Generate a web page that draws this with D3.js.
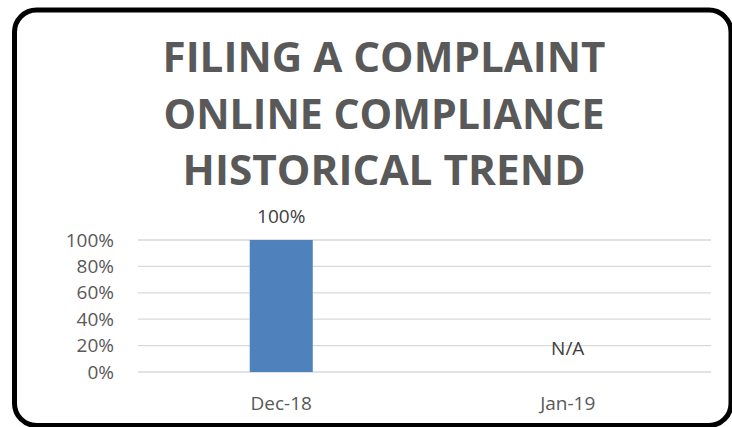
<!DOCTYPE html>
<html>
<head>
<meta charset="utf-8">
<script src="https://cdn.jsdelivr.net/npm/d3@7"></script>
<style>
  body { margin: 0; background: #fff; }
  svg { display: block; font-family: 'Open Sans', 'Liberation Sans', sans-serif; }
</style>
</head>
<body>
<div id="chart"></div>
<script>
// chart data
const categories = ['Dec-18', 'Jan-19'];
const values = [1.0, null];
const value_labels = ['100%', 'N/A'];
const y_ticks = [0, 0.2, 0.4, 0.6, 0.8, 1.0];
const title_lines = ['FILING A COMPLAINT', 'ONLINE COMPLIANCE', 'HISTORICAL TREND'];

const width = 732, height = 427;
const margin = {top: 240, right: 21, bottom: 55, left: 138};
const text_color = '#595959';
const bar_color = '#4f81bd';
const grid_color = '#d9d9d9';
const label_size = 19;

const svg = d3.select('#chart').append('svg')
  .attr('width', width)
  .attr('height', height);

// rounded frame
svg.append('rect')
  .attr('x', 14.5).attr('y', 10)
  .attr('width', 716.5).attr('height', 415.5)
  .attr('rx', 22)
  .attr('fill', 'white')
  .attr('stroke', 'black')
  .attr('stroke-width', 5);

// title
const title_baselines = [72, 129, 185];
const title_widths = [443, 441, 403];
svg.append('g').selectAll('text')
  .data(title_lines)
  .join('text')
  .attr('x', 384)
  .attr('y', (d, i) => title_baselines[i])
  .attr('text-anchor', 'middle')
  .attr('font-size', 41)
  .attr('font-weight', 'bold')
  .attr('fill', text_color)
  .attr('textLength', (d, i) => title_widths[i])
  .attr('lengthAdjust', 'spacingAndGlyphs')
  .text(d => d);

const y = d3.scaleLinear().domain([0, 1]).range([height - margin.bottom, margin.top]);
const x = d3.scaleBand().domain(categories).range([margin.left, width - margin.right]);
const bar_w = x.bandwidth() * 0.22;

// gridlines
svg.append('g').selectAll('line')
  .data(y_ticks)
  .join('line')
  .attr('x1', margin.left)
  .attr('x2', width - margin.right)
  .attr('y1', d => y(d))
  .attr('y2', d => y(d))
  .attr('stroke', grid_color)
  .attr('stroke-width', 1.3);

// y tick labels
svg.append('g').selectAll('text')
  .data(y_ticks)
  .join('text')
  .attr('x', 114)
  .attr('y', d => y(d))
  .attr('dy', '0.35em')
  .attr('text-anchor', 'end')
  .attr('font-size', label_size)
  .attr('fill', text_color)
  .text(d3.format('.0%'));

// bars
svg.append('g').selectAll('rect')
  .data(categories.map((c, i) => ({c, v: values[i]})).filter(d => d.v != null))
  .join('rect')
  .attr('x', d => x(d.c) + x.bandwidth() / 2 - bar_w / 2)
  .attr('width', bar_w)
  .attr('y', d => y(d.v))
  .attr('height', d => y(0) - y(d.v))
  .attr('fill', bar_color);

// value labels
svg.append('g').selectAll('text')
  .data(categories.map((c, i) => ({c, v: values[i], label: value_labels[i]})))
  .join('text')
  .attr('x', d => x(d.c) + x.bandwidth() / 2)
  .attr('y', d => d.v != null ? y(d.v) - 24 : y(0.18))
  .attr('dy', '0.35em')
  .attr('text-anchor', 'middle')
  .attr('font-size', label_size)
  .attr('fill', '#404040')
  .text(d => d.label);

// x labels
svg.append('g').selectAll('text')
  .data(categories)
  .join('text')
  .attr('x', d => x(d) + x.bandwidth() / 2)
  .attr('y', y(0) + 31)
  .attr('dy', '0.35em')
  .attr('text-anchor', 'middle')
  .attr('font-size', label_size)
  .attr('fill', text_color)
  .text(d => d);
</script>
</body>
</html>
